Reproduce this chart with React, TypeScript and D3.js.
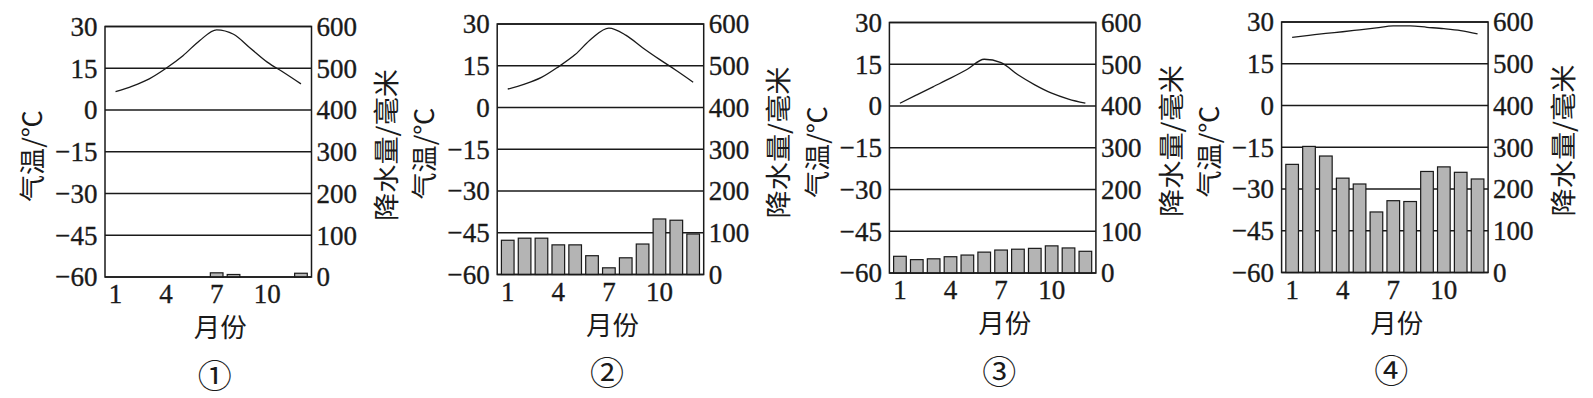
import { useEffect, useRef } from "react";
import * as d3 from "d3";

// months and axis ticks
const months = [1, 2, 3, 4, 5, 6, 7, 8, 9, 10, 11, 12];
const monthTicks = [1, 4, 7, 10];
const tempTicks = [30, 15, 0, -15, -30, -45, -60];
const precipTicks = [600, 500, 400, 300, 200, 100, 0];

// monthly mean temperature, °C
const temp1 = [6.6, 8.6, 11.2, 15.0, 19.5, 25.0, 28.8, 27.2, 22.2, 17.2, 13.4, 9.4];
const temp2 = [6.6, 8.4, 10.8, 14.6, 19.0, 24.9, 28.5, 26.0, 21.5, 17.3, 13.3, 9.1];
const temp3 = [1.0, 4.0, 7.0, 10.0, 13.2, 16.8, 15.6, 11.2, 7.6, 4.6, 2.5, 1.0];
const temp4 = [24.5, 25.2, 25.9, 26.5, 27.2, 27.9, 28.6, 28.6, 28.1, 27.6, 26.9, 25.7];

// monthly precipitation, mm
const precip1 = [0, 0, 0, 0, 0, 0, 10, 6, 0, 0, 0, 9];
const precip2 = [82, 87, 87, 71, 71, 45, 16, 40, 73, 133, 130, 97];
const precip3 = [40, 32, 34, 39, 43, 50, 55, 57, 59, 65, 60, 52];
const precip4 = [259, 302, 279, 226, 212, 145, 172, 170, 242, 253, 240, 224];

const panelNames = ["①", "②", "③", "④"];

const temps = [temp1, temp2, temp3, temp4];
const precips = [precip1, precip2, precip3, precip4];

const serif = "Liberation Serif";
const cjk = "Noto Sans CJK SC";
const fmt = (v: number) => (v < 0 ? "\u2212" + Math.abs(v) : String(v));

const App = () => {
  const ref = useRef<SVGSVGElement>(null);

  useEffect(() => {
    const svg = d3.select(ref.current);
    svg.selectAll("*").remove();

    const width = 206.5, height = 250.5;
    const tops = [26.5, 24, 22.5, 22];

    // text helper: stretched glyphs like the scanned original
    const label = (g: any, x: number, y: number, txt: string, o: any) => {
      const t = g.append("text")
        .attr("transform", `translate(${x},${y}) scale(${o.sx || 1},${o.sy || 1})${o.rot ? " rotate(" + o.rot + ")" : ""}`)
        .attr("font-family", o.font)
        .attr("font-size", o.size)
        .attr("fill", "#1a1a1a")
        .attr("text-anchor", o.anchor || "middle")
        .attr("dy", o.dy || "0.35em")
        .text(txt);
      if (o.len) t.attr("textLength", o.len).attr("lengthAdjust", "spacingAndGlyphs");
      if (o.bold) t.attr("stroke", "#1a1a1a").attr("stroke-width", o.bold);
      return t;
    };

    panelNames.forEach((name, i) => {
      const left = 105 + i * 392.2;
      const top = tops[i];
      const g = svg.append("g");

      const x = d3.scaleBand<number>()
        .domain(months)
        .range([left, left + width])
        .paddingInner(0.25)
        .paddingOuter(0.25);
      const yT = d3.scaleLinear().domain([-60, 30]).range([top + height, top]);
      const yP = d3.scaleLinear().domain([0, 600]).range([top + height, top]);

      // grid lines
      g.selectAll(".grid")
        .data(tempTicks)
        .enter()
        .append("line")
        .attr("x1", left).attr("x2", left + width)
        .attr("y1", (d) => yT(d)).attr("y2", (d) => yT(d))
        .attr("stroke", "#1a1a1a")
        .attr("stroke-width", 1.4);

      // precipitation bars
      g.selectAll(".bar")
        .data(precips[i].map((v, k) => ({ m: months[k], v })).filter((d) => d.v > 0))
        .enter()
        .append("rect")
        .attr("x", (d) => x(d.m) as number)
        .attr("width", x.bandwidth())
        .attr("y", (d) => yP(d.v))
        .attr("height", (d) => yP(0) - yP(d.v))
        .attr("fill", "#b4b4b4")
        .attr("stroke", "#1a1a1a")
        .attr("stroke-width", 1.2);

      // frame
      g.append("rect")
        .attr("x", left).attr("y", top)
        .attr("width", width).attr("height", height)
        .attr("fill", "none")
        .attr("stroke", "#1a1a1a")
        .attr("stroke-width", 1.5);

      // temperature curve
      const line = d3.line<number>()
        .x((_, k) => (x(months[k]) as number) + x.bandwidth() / 2)
        .y((d) => yT(d))
        .curve(d3.curveMonotoneX);
      g.append("path")
        .attr("d", line(temps[i]))
        .attr("fill", "none")
        .attr("stroke", "#1a1a1a")
        .attr("stroke-width", 1.3);

      // left axis labels
      tempTicks.forEach((t) => {
        label(g, left - 7.5, yT(t), fmt(t), { font: serif, size: 27, sy: 1.05, anchor: "end", dy: "0.33em", bold: 0.35 });
      });
      // right axis labels
      precipTicks.forEach((p) => {
        label(g, left + width + 5, yP(p), String(p), { font: serif, size: 27, sy: 1.05, anchor: "start", dy: "0.33em", bold: 0.35 });
      });
      // month labels
      monthTicks.forEach((m) => {
        label(g, (x(m) as number) + x.bandwidth() / 2, top + height + 17, String(m), { font: serif, size: 27, sy: 1.05, dy: "0.33em", bold: 0.35 });
      });

      // axis titles
      label(g, left - 72, top + 129.5, "气温/℃", { font: cjk, size: 26, rot: -90, len: 92 });
      label(g, left + width + 75.5, top + 118.5, "降水量/毫米", { font: cjk, size: 26, rot: -90, len: 152 });
      label(g, left + width / 2 + 12, top + height + 51, "月份", { font: cjk, size: 26, len: 53 });
      label(g, left + width / 2 + 6.5, top + height + 99, name, { font: cjk, size: 33, len: 34 });
    });
  }, []);

  return (
    <svg
      ref={ref}
      width={1593}
      height={398}
      style={{ position: "absolute", left: 0, top: 0, background: "#fff" }}
    />
  );
};

export default App;
